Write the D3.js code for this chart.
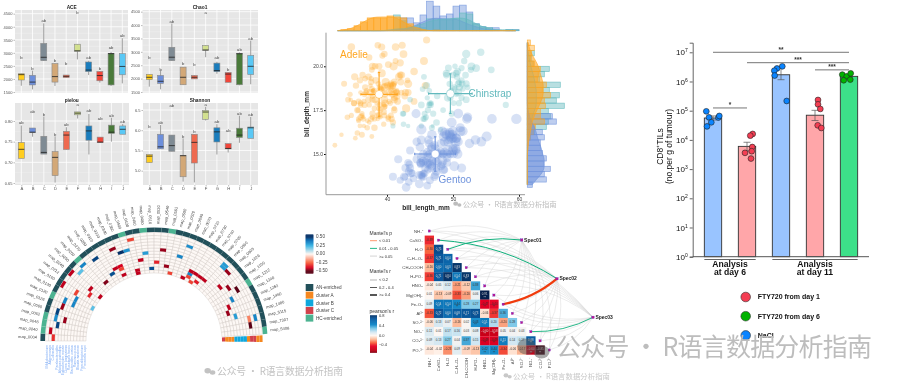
<!DOCTYPE html>
<meta charset="utf-8" />
<style>
  html, body { margin: 0; padding: 0; background: #fff; }
  svg { display: block; font-family: "Liberation Sans", Arial, sans-serif; }
  /* the reference is a soft, upscaled collage */
  svg > g { filter: blur(0.35px); }
</style>
<body>
  <script src="https://d3js.org/d3.v7.min.js"></script>
  <script>
    // ---------- data: boxplots (low whisker, q1, median, q3, high whisker)
    const boxGroups = ["A", "B", "C", "D", "E", "F", "G", "H", "I", "J"];
    const boxColors = ["#ffcd1f", "#6d8fdb", "#7f8b94", "#d3a877", "#ee6a50", "#d2e08f", "#1a7dbd", "#f2463a", "#4a7a3a", "#5ac8f5"];
    const aceStats = [[1740,1960,2164,2200,2200],[1600,1770,1880,2140,2320],[2700,2700,2830,3360,4130],[1730,1880,2090,2590,2590],[2050,2050,2100,2150,2150],[2750,3060,3080,3330,3330],[2150,2280,2340,2650,2700],[1860,1930,2130,2290,2290],[1730,1770,2970,2980,3040],[1830,2160,2480,2970,3560]];
    const aceLetters = ["b","b","ab","b","b","b","ab","b","ab","ab"];
    const aceLetterY = [2800,2390,4220,2690,2570,4550,2815,2400,3200,3650];
    const chaoStats = [[1700,1960,2050,2160,2160],[1600,1820,1900,2120,2300],[2670,2670,2800,3170,4060],[1770,1770,2050,2430,2430],[1990,1990,2050,2120,2120],[2800,3060,3070,3240,3240],[2180,2260,2300,2580,2630],[1860,1860,2170,2230,2230],[1750,1770,2930,2940,2980],[1790,2150,2460,2870,3420]];
    const chaoLetters = ["b","b","ab","b","b","a","ab","b","ab","ab"];
    const chaoLetterY = [2770,2350,4115,2560,2510,4475,2780,2330,3095,3480];
    const pielouStats = [[.7095,.7095,.7315,.748,.789],[.762,.772,.773,.783,.783],[.72,.72,.724,.763,.811],[.651,.668,.712,.726,.763],[.731,.731,.766,.775,.785],[.806,.815,.819,.822,.822],[.719,.7535,.776,.788,.817],[.748,.748,.749,.761,.761],[.75,.77,.773,.79,.808],[.768,.768,.78,.788,.793]];
    const pielouLetters = ["ab","ab","b","b","ab","a","ab","ab","ab","ab"];
    const pielouLetterY = [.795,.822,.816,.768,.791,.84,.824,.805,.814,.799];
    const shannonStats = [[5.2,5.2,5.36,5.4,5.4],[5.54,5.54,5.59,5.9,6.13],[5.48,5.48,5.62,5.88,5.88],[4.73,4.85,5.37,5.38,5.8],[4.71,5.19,5.7,5.9,5.9],[6.24,6.27,6.45,6.49,6.58],[5.4,5.71,5.96,6.06,6.15],[5.45,5.54,5.55,5.67,5.67],[5.69,5.82,5.88,6.05,6.36],[5.8,5.8,6.06,6.08,6.33]];
    const shannonLetters = ["b","ab","ab","b","b","a","ab","ab","ab","ab"];
    const shannonLetterY = [6.09,6.19,6.61,5.85,5.97,6.64,6.21,5.98,6.42,6.39];

    // ---------- data: penguins (bill length, bill depth, body mass)
    const adelie = [[39.1,18.7,3750],[39.5,17.4,3800],[40.3,18,3250],[36.7,19.3,3450],[39.3,20.6,3650],[38.9,17.8,3625],[39.2,19.6,4675],[34.1,18.1,3475],[42,20.2,4250],[37.8,17.1,3300],[37.8,17.3,3700],[41.1,17.6,3200],[38.6,21.2,3800],[34.6,21.1,4400],[36.6,17.8,3700],[38.7,19,3450],[42.5,20.7,4500],[34.4,18.4,3325],[46,21.5,4200],[37.8,18.3,3400],[37.7,18.7,3600],[35.9,19.2,3800],[38.2,18.1,3950],[38.8,17.2,3800],[35.3,18.9,3800],[40.6,18.6,3550],[40.5,17.9,3200],[37.9,18.6,3150],[40.5,18.9,3950],[39.5,16.7,3250],[37.2,18.1,3900],[39.5,17.8,3300],[40.9,18.9,3900],[36.4,17,3325],[39.2,21.1,4150],[38.8,20,3950],[42.2,18.5,3550],[37.6,19.3,3300],[39.8,19.1,4650],[36.5,18,3150],[40.8,18.4,3900],[36,18.5,3100],[44.1,19.7,4400],[37,16.9,3000],[39.6,18.8,4600],[41.1,19,3425],[37.5,18.9,2975],[36,17.9,3450],[42.3,21.2,4150],[39.6,17.7,3500],[40.1,18.9,4300],[35,17.9,3450],[42,19.5,4050],[34.5,18.1,2900],[41.4,18.6,3700],[39,17.5,3550],[40.6,18.8,3800],[36.5,16.6,2850],[37.6,19.1,3750],[35.7,16.9,3150],[41.3,21.1,4400],[37.6,17,3600],[41.1,18.2,4050],[36.4,17.1,2850],[41.6,18,3950],[35.5,16.2,3350],[41.1,19.1,4100],[35.9,16.6,3050],[41.8,19.4,4450],[33.5,19,3600],[39.7,18.4,3900],[39.6,17.2,3550],[45.8,18.9,4150],[35.5,17.5,3700],[42.8,18.5,4250],[40.9,16.8,3700],[37.2,19.4,3900],[36.2,16.1,3550],[42.1,19.1,4000],[34.6,17.2,3200],[42.9,17.6,4700],[36.7,18.8,3800],[35.1,19.4,4200],[37.3,17.8,3350],[41.3,20.3,3550],[36.3,19.5,3800],[36.9,18.6,3500],[38.3,19.2,3950],[38.9,18.8,3600],[35.7,18,3550],[41.1,18.1,4300],[34,17.1,3400],[39.6,18.1,4450],[36.2,17.3,3300],[40.8,18.9,4300],[38.1,18.6,3700],[40.3,18.5,4350],[33.1,16.1,2900],[43.2,18.5,4100],[35,17.9,3725],[41,20,4725],[37.7,16,3075],[37.8,20,4250],[37.9,18.6,2925],[39.7,18.9,3550],[38.6,17.2,3750],[38.2,20,3900],[38.1,17,3175],[43.2,19,4775],[38.1,16.5,3825],[45.6,20.3,4600],[39.7,17.7,3200],[42.2,19.5,4275],[39.6,20.7,3900],[42.7,18.3,4075],[38.6,17,2900],[37.3,20.5,3775],[35.7,17,3350],[41.1,18.6,3325],[36.2,17.2,3150],[37.7,19.8,3500],[40.2,17,3450],[41.4,18.5,3875],[35.2,15.9,3050],[40.6,19,4000],[38.8,17.6,3275],[41.5,18.3,4300],[39,17.1,3050],[44.1,18,4000],[38.5,17.9,3325],[43.1,19.2,3500],[36.8,18.5,3500],[37.5,18.5,4475],[38.1,17.6,3425],[41.1,17.5,3900],[35.6,17.5,3175],[40.2,20.1,3975],[37,16.5,3400],[39.7,17.9,4250],[40.2,17.1,3400],[40.6,17.2,3475],[32.1,15.5,3050],[40.7,17,3725],[37.3,16.8,3000],[39,18.7,3650],[39.2,18.6,4250],[36.6,18.4,3475],[36,17.8,3450],[37.8,18.1,3750],[36,17.1,3700],[41.5,18.5,4000]];
    const chinstrap = [[46.5,17.9,3500],[50,19.5,3900],[51.3,19.2,3650],[45.4,18.7,3525],[52.7,19.8,3725],[45.2,17.8,3950],[46.1,18.2,3250],[51.3,18.2,3750],[46,18.9,4150],[51.3,19.9,3700],[46.6,17.8,3800],[51.7,20.3,3775],[47,17.3,3700],[52,18.1,4050],[45.9,17.1,3575],[50.5,19.6,4050],[50.3,20,3300],[58,17.8,3700],[46.4,18.6,3450],[49.2,18.2,4400],[42.4,17.3,3600],[48.5,17.5,3400],[43.2,16.6,2900],[50.6,19.4,3800],[46.7,17.9,3300],[52,19,4150],[50.5,18.4,3400],[49.5,19,3800],[46.4,17.8,3700],[52.8,20,4550],[40.9,16.6,3200],[54.2,20.8,4300],[42.5,16.7,3350],[51,18.8,4100],[49.7,18.6,3600],[47.5,16.8,3900],[47.6,18.3,3850],[52,20.7,4800],[46.9,16.6,2700],[53.5,19.9,4500],[49,19.5,3950],[46.2,17.5,3650],[50.9,19.1,3550],[45.5,17,3500],[50.9,17.9,3675],[50.8,18.5,4450],[50.1,17.9,3400],[49,19.6,4300],[51.5,18.7,3250],[49.8,17.3,3675],[48.1,16.4,3325],[51.4,19,3950],[45.7,17.3,3600],[50.7,19.7,4050],[42.5,17.3,3350],[52.2,18.8,3450],[45.2,16.6,3250],[49.3,19.9,4050],[50.2,18.8,3800],[45.6,19.4,3525],[51.9,19.5,3950],[46.8,16.5,3650],[45.7,17,3650],[55.8,19.8,4000],[43.5,18.1,3400],[49.6,18.2,3775],[50.8,19,4100],[50.2,18.7,3775]];
    const gentoo = [[46.1,13.2,4500],[50,16.3,5700],[48.7,14.1,4450],[50,15.2,5700],[47.6,14.5,5400],[46.5,13.5,4550],[45.4,14.6,4800],[46.7,15.3,5200],[43.3,13.4,4400],[46.8,15.4,5150],[40.9,13.7,4650],[49,16.1,5550],[45.5,13.7,4650],[48.4,14.6,5850],[45.8,14.6,4200],[49.3,15.7,5850],[42,13.5,4150],[49.2,15.2,6300],[46.2,14.5,4800],[48.7,15.1,5350],[50.2,14.3,5700],[45.1,14.5,5000],[46.5,14.5,4400],[46.3,15.8,5050],[42.9,13.1,5000],[46.1,15.1,5100],[47.8,15,5650],[48.2,14.3,4600],[50,15.3,5550],[47.3,15.3,5250],[42.8,14.2,4700],[45.1,14.5,5050],[59.6,17,6050],[49.1,14.8,5150],[48.4,16.3,5400],[42.6,13.7,4950],[44.4,17.3,5250],[44,13.6,4350],[48.7,15.7,5350],[42.7,13.7,3950],[49.6,16,5700],[45.3,13.7,4300],[49.6,15,4750],[50.5,15.9,5550],[43.6,13.9,4900],[45.5,13.9,4200],[50.5,15.9,5400],[44.9,13.3,5100],[45.2,15.8,5300],[46.6,14.2,4850],[48.5,14.1,5300],[45.1,14.4,4400],[50.1,15,5000],[46.5,14.4,4900],[45,15.4,5050],[43.8,13.9,4300],[45.5,15,5000],[43.2,14.5,4450],[50.4,15.3,5550],[45.3,13.8,4200],[46.2,14.9,5300],[45.7,13.9,4400],[54.3,15.7,5650],[45.8,14.2,4700],[49.8,16.8,5700],[46.2,14.4,4650],[49.5,16.2,5800],[43.5,14.2,4700],[50.7,15,5550],[47.7,15,4750],[46.4,15.6,5000],[48.2,15.6,5100],[46.5,14.8,5200],[46.4,15,4700],[48.6,16,5800],[47.5,14.2,4600],[51.1,16.3,6000],[45.2,13.8,4750],[45.2,16.4,5950],[49.1,14.5,4625],[52.5,15.6,5450],[47.4,14.6,4725],[50,15.9,5350],[44.9,13.8,4750],[50.8,17.3,5600],[43.4,14.4,4600],[51.3,14.2,5300],[47.5,14,4875],[52.1,17,5550],[47.5,15,4950],[52.2,17.1,5400],[45.5,14.5,4750],[49.5,16.1,5650],[44.5,14.7,4850],[50.8,15.7,5200],[49.4,15.8,4925],[46.9,14.6,4875],[48.4,14.4,4625],[51.1,16.5,5250],[48.5,15,4850],[55.9,17,5600],[47.2,15.5,4975],[49.1,15,5500],[47.3,13.8,4725],[46.8,16.1,5500],[41.7,14.7,4700],[53.4,15.8,5500],[43.3,14,4575],[48.1,15.1,5500],[50.5,15.2,5000],[49.8,15.9,5950],[43.5,15.2,4650],[51.5,16.3,5500],[46.2,14.1,4375],[55.1,16,5850],[44.5,15.7,4875],[48.8,16.2,6000],[47.2,13.7,4925],[46.8,14.3,4850],[50.4,15.7,5750],[45.2,14.8,5200],[49.9,16.1,5400]];
    const speciesNames = ["Adelie", "Chinstrap", "Gentoo"];
    const speciesColors = ["#ffa51f", "#62b9bd", "#6f93dc"];
    const speciesCross = [[38.8,2.75,18.4,1.25],[49.6,3.3,18.44,1.13],[47.3,3.1,15,0.98]];

    // marginal histograms, one value per bill_length bin starting at lengthBins[i]
    const lengthBins = d3.range(32, 60);
    const lengthHist = [
      [0,1,2,5,9,13,13,13,15,14,13,7,3,1,0,1,0,0,0,0,0,0,0,0,0,0,0,0],
      [0,0,0,0,0,0,0,0,0,16,10,4,1,3,12,12,11,11,12,18,17,7,4,3,0,0,1,1],
      [0,0,0,0,0,0,0,0,0,0,13,13,8,16,30,25,15,17,25,26,19,7,4,3,3,0,1,1]
    ];
    const lengthDens = [
      [0,1,2,5,9,13,14,14,14,13,9,5,3,1,0,0,0,0,0,0,0,0,0,0,0,0,0,0],
      [0,0,0,0,0,0,0,0,1,2,2,3,5,7,10,11,12,12,13,13,11,7,4,2,1,1,1,0],
      [0,0,0,0,0,0,0,0,0,1,1,3,6,9,12,13,12,12,12,9,6,4,2,1,1,0,0,0]
    ];
    // bill_depth bins, 0.3 wide, top row starts at 21.5
    const depthHist = [
      [3,7,4,3,7,13,11,10,19,15,23,17,18,13,13,17,8,6,3,1,0,0,0,0,0,0,0,0],
      [0,0,7,4,6,22,17,12,33,22,32,29,37,21,23,21,19,7,3,0,0,0,0,0,0,0,0,0],
      [0,0,0,0,0,0,0,0,0,0,0,0,0,0,25,29,7,15,17,13,13,15,19,16,23,17,19,5]
    ];
    const depthDens = [
      [1,2,4,7,10,12,13,15,16,16,16,14,12,9,7,5,4,3,2,1,1,0,0,0,0,0,0,0],
      [0,0,1,2,3,4,6,7,8,9,9,9,9,7,5,4,3,2,1,0,0,0,0,0,0,0,0,0],
      [0,0,0,0,0,0,0,0,0,0,0,0,0,1,2,4,7,9,10,12,14,15,17,17,17,14,9,5]
    ];

    // ---------- data: CD8 bars
    const barGroups = ["d6a", "d6b", "d11a", "d11b", "d11c"];
    const barValues = [5.6e4, 6e3, 1.7e6, 7e4, 1.5e6];
    const barErrLow = [4.8e4, 4.2e3, 1.15e6, 4.6e4, 1.25e6];
    const barErrHigh = [6.6e4, 8.3e3, 3.2e6, 1.03e5, 1.75e6];
    const barFill = ["#99c4ff", "#ffa6a9", "#99c4ff", "#ffa6a9", "#3de089"];
    const pointFill = ["#0a84ff", "#f43e53", "#0a84ff", "#f43e53", "#00b300"];
    const barPoints = [
      [9.5e4, 5.9e4, 4e4, 2.9e4, 5.8e4, 6.6e4],
      [1.6e4, 1.4e4, 5.7e3, 3.6e3, 4.1e3, 2.3e3],
      [3.3e6, 2.8e6, 2.35e6, 1.6e6, 2.15e5],
      [2.33e5, 1.65e5, 1.15e5, 3.16e4, 2.56e4],
      [1.72e6, 1.5e6, 1.9e6, 1.16e6, 1.1e6]
    ];
    const barJitter = [[-6.7,-4,-1.7,-6,5.3,6.3],[5.7,3.3,5.3,-2,4.7,4],[1.3,-4,-6.7,-6.3,5.7],[3,3,5.3,2.7,6.3],[-6.7,-2.3,1.7,1.3,-5.3]];
    const brackets = [["d6a","d11c",1e7,"**"],["d6b","d11c",4.4e6,"***"],["d11b","d11c",2.5e6,"***"],["d6a","d6b",1.24e5,"*"]];
    const barLegend = [["FTY720 from day 1","#f43e53"],["FTY720 from day 6","#00b300"],["NaCl","#0a84ff"]];
    const decades = [0, 1, 2, 3, 4, 5, 6, 7];

    // ---------- data: circular heatmap
    const taxaLabels = ["map_0004","map_0040","map_0046","map_0052","map_0060","map_0126","map_0120","map_0130","map_0160","map_0212","map_0240","map_0250","map_0260","map_0270","map_0280","map_0310","map_0330","map_0340","map_0360","map_0400","map_0430","map_0450","map_0480","map_0510","map_0520","map_0540","map_0561","map_0590","map_0620","map_0640","map_0670","map_0710","map_0730","map_0760","map_0790","map_0860","map_0903","map_1026","map_1100","map_1212","map_1240","map_1263","map_1460","map_1480","map_5115","map_7307","map_5406"];
    const hcSectors = [1, 2, 3, 6, 12, 19, 22, 26, 39, 46];
    const ringNames = ["Prevotella copri","Faecalibacterium","Blautia wexlerae","Ruminococcus","Bacteroides ovatus","Roseburia faecis","Dorea longicatena","Eubacterium rectale","Alistipes putredinis","Parabacteroides","Collinsella","Akkermansia","Bifidobacterium"];
    const ringCluster = ["cluster C","cluster A","cluster A","cluster A","cluster B","cluster B","cluster B","cluster B","cluster A","cluster C","cluster C","cluster A","cluster A"];
    // sector, ring, correlation
    const circCells = [[20,11,-.3],[17,10,-.45],[18,8,.5],[19,8,.32],[21,4,-.42],[22,6,.3],[25,7,-.45],[24,3,-.35],[23,1,.45],[26,2,-.45],[27,0,-.3],[20,0,-.42],[20,1,-.42],[16,4,-.42],[17,4,-.4],[17,3,-.3],[15,3,.45],[17,1,-.42],[13,2,-.47],[14,10,.47],[12,11,.35],[11,10,.2],[10,12,-.42],[8,12,-.42],[10,4,-.42],[9,3,-.35],[8,7,-.3],[7,6,.35],[6,6,.35],[10,0,-.42],[7,0,.2],[6,9,.35],[5,9,-.45],[4,10,.47],[3,10,.33],[3,7,-.45],[2,9,.47],[1,11,-.42],[0,10,-.33],[29,10,.33],[28,6,.35],[35,10,.3],[35,11,.3],[36,10,-.45],[31,2,.35],[30,0,-.42],[31,3,-.42],[32,3,-.42],[33,3,-.42],[34,3,-.42],[31,1,-.3],[32,0,-.3],[33,1,-.36],[37,5,-.42],[38,7,-.45],[39,9,-.5],[40,6,.35],[41,4,-.42],[42,3,-.45],[43,5,.3],[44,11,.35],[44,9,-.2],[45,9,-.5]];
    const clusterNames = ["AN-enriched", "cluster A", "cluster B", "cluster C", "HC-enriched"];
    const clusterColors = ["#22505a", "#f5871f", "#0fa7dc", "#d2414b", "#4cb391"];
    const circTicks = [.5, .25, 0, -.25, -.5];

    // ---------- data: correlation matrix + mantel links
    const envLabels = ["NH\u2084\u207a","CaSO\u2084","H\u2082O","C\u2086H\u2081\u2082O\u2086","CH\u2083COOH","H\u2083PO\u2084","HNO\u2083","Mg(OH)\u2082","Fe\u2082O\u2083","Al\u00b3\u207a","SO\u2084\u00b2\u207b","NO\u2083\u207b","CO\u2083\u00b2\u207b","PO\u2084\u00b3\u207b"];
    const corrRows = [
      [],
      [-.39],
      [-.3,.75],
      [-.37,.71,.64],
      [-.16,.6,.63,.83],
      [-.36,.71,.84,.54,.83],
      [-.04,.05,.12,-.21,-.12,.38],
      [.01,-.13,-.09,-.33,-.2,.06,.91],
      [.09,.54,.54,.44,.28,.27,-.47,-.44],
      [-.33,.72,.6,.68,.71,.73,-.06,-.37,.36],
      [-.06,.13,.07,-.16,.02,.43,.51,.2,-.2,.28],
      [.11,.01,.17,.16,.03,.08,-.6,-.58,.05,.04,.03],
      [.09,.13,.27,.04,.37,.15,-.49,-.49,.51,.14,.17,.68],
      [-.04,-.02,-.23,.09,-.09,-.13,.42,.44,-.34,-.06,-.17,-.6,-.85]
    ];
    const specNames = ["Spec01", "Spec02", "Spec03"];
    // env index, spec index, colour, width for the links that stand out
    const strongLinks = [[1,1,"#10b07c",1],[2,0,"#10b07c",1],[8,1,"#f03b0c",2.2],[11,2,"#10b07c",0.9]];
    const pLegend = [["< 0.01","#ff8c60"],["0.01 - 0.05","#10b07c"],[">= 0.05","#cfcfcf"]];
    const rLegend = [["< 0.2",0.4],["0.2 - 0.4",0.9],[">= 0.4",1.8]];
    const corrTicks = [.8, .4, 0, -.4];

    const watermarkText = "公众号 · R语言数据分析指南";

    const svg = d3.select("body").append("svg").attr("width", 900).attr("height", 383);

    // ---------- boxplots
    function boxPanel(opt) {
      const g = svg.append("g");
      const x = d3.scalePoint().domain(boxGroups).range(opt.xr);
      const y = d3.scaleLinear().domain(opt.yd).range(opt.yr);
      g.append("rect").attr("x", opt.px[0]).attr("y", opt.py[0])
        .attr("width", opt.px[1] - opt.px[0]).attr("height", opt.py[1] - opt.py[0])
        .attr("fill", "#e6e6e6");
      const minor = d3.pairs(opt.ticks).map(p => (p[0] + p[1]) / 2);
      g.selectAll(".minor").data(minor).join("line")
        .attr("x1", opt.px[0]).attr("x2", opt.px[1])
        .attr("y1", y).attr("y2", y).attr("stroke", "#f4f4f4").attr("stroke-width", 0.4);
      g.selectAll(".major").data(opt.ticks).join("line")
        .attr("x1", opt.px[0]).attr("x2", opt.px[1])
        .attr("y1", y).attr("y2", y).attr("stroke", "#fff").attr("stroke-width", 0.8);
      g.selectAll(".vert").data(boxGroups).join("line")
        .attr("x1", x).attr("x2", x).attr("y1", opt.py[0]).attr("y2", opt.py[1])
        .attr("stroke", "#fff").attr("stroke-width", 0.8);

      g.append("g").attr("transform", "translate(" + opt.px[0] + ",0)")
        .call(d3.axisLeft(y).tickValues(opt.ticks).tickSize(1.5).tickPadding(1).tickFormat(opt.fmt))
        .call(a => a.select(".domain").remove())
        .call(a => a.selectAll("text").attr("font-size", 4).attr("fill", "#555").attr("font-family", "Liberation Sans"))
        .call(a => a.selectAll("line").attr("stroke", "#555").attr("stroke-width", 0.4));
      if (opt.showX) {
        g.append("g").attr("transform", "translate(0," + opt.py[1] + ")")
          .call(d3.axisBottom(x).tickSize(1.5).tickPadding(1))
          .call(a => a.select(".domain").remove())
          .call(a => a.selectAll("text").attr("font-size", 4.2).attr("fill", "#555").attr("font-family", "Liberation Sans"))
          .call(a => a.selectAll("line").attr("stroke", "#555").attr("stroke-width", 0.4));
      }

      const boxes = g.selectAll(".box").data(opt.stats).join("g");
      boxes.append("line").attr("x1", (d, i) => x(boxGroups[i])).attr("x2", (d, i) => x(boxGroups[i]))
        .attr("y1", d => y(d[0])).attr("y2", d => y(d[4])).attr("stroke", "#777").attr("stroke-width", 0.7);
      boxes.append("rect").attr("x", (d, i) => x(boxGroups[i]) - 3).attr("width", 6)
        .attr("y", d => y(d[3])).attr("height", d => Math.max(y(d[1]) - y(d[3]), 1))
        .attr("fill", (d, i) => boxColors[i]).attr("stroke", "#8a8a8a").attr("stroke-width", 0.6);
      boxes.append("line").attr("x1", (d, i) => x(boxGroups[i]) - 3).attr("x2", (d, i) => x(boxGroups[i]) + 3)
        .attr("y1", d => y(d[2])).attr("y2", d => y(d[2])).attr("stroke", "#222").attr("stroke-width", 0.8);
      g.selectAll(".letter").data(opt.letters).join("text")
        .attr("x", (d, i) => x(boxGroups[i])).attr("y", (d, i) => y(opt.letterY[i]) + 1.3)
        .attr("text-anchor", "middle").attr("font-size", 4.2).attr("fill", "#444").text(d => d);
      g.append("text").attr("x", opt.titleX).attr("y", opt.py[0] - 1.5).attr("text-anchor", "middle")
        .attr("font-size", 4.8).attr("font-weight", "bold").attr("fill", "#222").text(opt.title);
    }
    boxPanel({ title: "ACE", titleX: 71.7, px: [15, 128], py: [10, 93], xr: [21.3, 122.3], yd: [1500, 4500], yr: [92, 13.7],
      ticks: d3.range(1500, 4501, 500), fmt: d3.format("d"), stats: aceStats, letters: aceLetters, letterY: aceLetterY });
    boxPanel({ title: "Chao1", titleX: 200, px: [142.5, 258], py: [10, 93], xr: [149.3, 250.7], yd: [1500, 4500], yr: [92, 11.7],
      ticks: d3.range(1500, 4501, 500), fmt: d3.format("d"), stats: chaoStats, letters: chaoLetters, letterY: chaoLetterY });
    boxPanel({ title: "pielou", titleX: 71.7, px: [15, 129], py: [103, 185], xr: [21.3, 122.7], yd: [.65, .8], yr: [183, 121],
      ticks: [.65, .7, .75, .8], fmt: d3.format(".2f"), stats: pielouStats, letters: pielouLetters, letterY: pielouLetterY, showX: true });
    boxPanel({ title: "Shannon", titleX: 200, px: [143, 258], py: [103, 185], xr: [149.3, 250.7], yd: [5, 6.5], yr: [170.7, 110],
      ticks: [5, 5.5, 6, 6.5], fmt: d3.format(".1f"), stats: shannonStats, letters: shannonLetters, letterY: shannonLetterY, showX: true });

    // ---------- penguin scatter with marginals
    const sx = d3.scaleLinear().domain([40, 60]).range([387, 519]);
    const sy = d3.scaleLinear().domain([15, 20]).range([154, 66.3]);
    const sr = d3.scaleSqrt().domain([2700, 6300]).range([2, 5.4]);
    const scatter = svg.append("g");

    const species = [adelie, chinstrap, gentoo];
    species.forEach((pts, k) => {
      scatter.append("g").selectAll("circle").data(pts).join("circle")
        .attr("cx", d => sx(d[0])).attr("cy", d => sy(d[1])).attr("r", d => sr(d[2]))
        .attr("fill", speciesColors[k]).attr("fill-opacity", 0.28);
    });
    speciesCross.forEach((c, k) => {
      const g = scatter.append("g").attr("stroke", speciesColors[k]).attr("stroke-width", 1.1);
      g.append("line").attr("x1", sx(c[0] - c[1])).attr("x2", sx(c[0] + c[1])).attr("y1", sy(c[2])).attr("y2", sy(c[2]));
      g.append("line").attr("x1", sx(c[0])).attr("x2", sx(c[0])).attr("y1", sy(c[2] - c[3])).attr("y2", sy(c[2] + c[3]));
      [c[0] - c[1], c[0] + c[1]].forEach(v => g.append("line").attr("x1", sx(v)).attr("x2", sx(v)).attr("y1", sy(c[2]) - 1.2).attr("y2", sy(c[2]) + 1.2));
      [c[2] - c[3], c[2] + c[3]].forEach(v => g.append("line").attr("y1", sy(v)).attr("y2", sy(v)).attr("x1", sx(c[0]) - 1.2).attr("x2", sx(c[0]) + 1.2));
      scatter.append("circle").attr("cx", sx(c[0])).attr("cy", sy(c[2])).attr("r", 4)
        .attr("fill", "#fff").attr("stroke", speciesColors[k]).attr("stroke-width", 0.5);
    });
    const speciesLabelAt = [[354, 58], [490, 97], [455, 183]];
    speciesNames.forEach((n, k) => {
      scatter.append("text").attr("x", speciesLabelAt[k][0]).attr("y", speciesLabelAt[k][1]).attr("text-anchor", "middle")
        .attr("font-size", 10).attr("fill", speciesColors[k]).text(n);
    });

    scatter.append("g").attr("transform", "translate(0,194.7)")
      .call(d3.axisBottom(sx).tickValues([40, 50, 60]).tickSize(2).tickPadding(1))
      .call(a => a.selectAll("text").attr("font-size", 5).attr("fill", "#444").attr("font-family", "Liberation Sans"));
    scatter.append("g").attr("transform", "translate(326,0)")
      .call(d3.axisLeft(sy).tickValues([15, 17.5, 20]).tickSize(2).tickPadding(1).tickFormat(d3.format(".1f")))
      .call(a => a.selectAll("text").attr("font-size", 5).attr("fill", "#444").attr("font-family", "Liberation Sans"));
    scatter.selectAll(".domain").remove();
    scatter.append("path").attr("d", d3.line()([[326, 32.7], [326, 194.7], [525, 194.7]]))
      .attr("fill", "none").attr("stroke", "#999").attr("stroke-width", 1);
    scatter.append("text").attr("x", 426).attr("y", 209.5).attr("text-anchor", "middle")
      .attr("font-size", 6.5).attr("font-weight", "bold").attr("fill", "#222").text("bill_length_mm");
    scatter.append("text").attr("transform", "translate(309,114) rotate(-90)").attr("text-anchor", "middle")
      .attr("font-size", 6.5).attr("font-weight", "bold").attr("fill", "#222").text("bill_depth_mm");

    // top marginal: values are counts
    const topY = d3.scaleLinear().domain([0, 30]).range([30.7, 1.2]);
    const histOpacity = [0.6, 0.45, 0.45];
    [2, 1, 0].forEach(k => {
      scatter.append("g").selectAll("rect").data(lengthHist[k]).join("rect")
        .attr("x", (d, i) => sx(lengthBins[i])).attr("width", sx(1) - sx(0))
        .attr("y", d => topY(d)).attr("height", d => topY(0) - topY(d))
        .attr("fill", speciesColors[k]).attr("fill-opacity", histOpacity[k])
        .attr("stroke", speciesColors[k]).attr("stroke-opacity", 0.8).attr("stroke-width", d => d > 0 ? 0.7 : 0);
    });
    [2, 1, 0].forEach(k => {
      scatter.append("path").datum(lengthDens[k])
        .attr("d", d3.area().curve(d3.curveBasis)
          .x((d, i) => sx(lengthBins[i] + 0.5)).y0(topY(0)).y1(d => topY(d)))
        .attr("fill", speciesColors[k]).attr("fill-opacity", 0.45)
        .attr("stroke", speciesColors[k]).attr("stroke-width", 0.6);
    });

    // right marginal
    const rightX = d3.scaleLinear().domain([0, 37]).range([527.3, 564.3]);
    const depthTop = i => 21.5 - 0.3 * i;
    [1, 2, 0].forEach(k => {
      scatter.append("g").selectAll("rect").data(depthHist[k]).join("rect")
        .attr("x", rightX(0)).attr("width", d => rightX(d) - rightX(0))
        .attr("y", (d, i) => sy(depthTop(i))).attr("height", sy(0) - sy(0.3))
        .attr("fill", speciesColors[k]).attr("fill-opacity", k === 0 ? 0.4 : 0.45)
        .attr("stroke", speciesColors[k]).attr("stroke-opacity", 0.8).attr("stroke-width", d => d > 0 ? 0.7 : 0);
    });
    [1, 2, 0].forEach(k => {
      scatter.append("path").datum(depthDens[k])
        .attr("d", d3.area().curve(d3.curveBasis)
          .y((d, i) => sy(depthTop(i) - 0.15)).x0(rightX(0)).x1(d => rightX(d)))
        .attr("fill", speciesColors[k]).attr("fill-opacity", k === 1 ? 0.25 : 0.6)
        .attr("stroke", speciesColors[k]).attr("stroke-width", 0.6);
    });

    // ---------- CD8 bars
    const bx = d3.scaleBand().domain(barGroups).range([696, 866]).paddingInner(0.49).paddingOuter(0.245);
    const by = d3.scaleLog().domain([1, 2.13e7]).range([256.7, 42.7]);
    const bars = svg.append("g");
    const bc = d => bx(d) + bx.bandwidth() / 2;
    bars.selectAll(".bar").data(barValues).join("rect")
      .attr("x", (d, i) => bx(barGroups[i])).attr("width", bx.bandwidth())
      .attr("y", d => by(d)).attr("height", d => by(1) - by(d))
      .attr("fill", (d, i) => barFill[i]).attr("stroke", "#333").attr("stroke-width", 0.9);
    barGroups.forEach((g, i) => {
      const e = bars.append("g").attr("stroke", "#555").attr("stroke-width", 0.7);
      e.append("line").attr("x1", bc(g)).attr("x2", bc(g)).attr("y1", by(barErrLow[i])).attr("y2", by(barErrHigh[i]));
      [barErrLow[i], barErrHigh[i]].forEach(v => e.append("line")
        .attr("x1", bc(g) - 3.5).attr("x2", bc(g) + 3.5).attr("y1", by(v)).attr("y2", by(v)));
      bars.append("g").selectAll("circle").data(barPoints[i]).join("circle")
        .attr("cx", (d, j) => bc(g) + barJitter[i][j]).attr("cy", d => by(d)).attr("r", 2.9)
        .attr("fill", pointFill[i]).attr("stroke", "#222").attr("stroke-width", 0.6);
    });
    brackets.forEach(b => {
      bars.append("line").attr("x1", bc(b[0])).attr("x2", bc(b[1])).attr("y1", by(b[2])).attr("y2", by(b[2]))
        .attr("stroke", "#666").attr("stroke-width", 0.9);
      bars.append("text").attr("x", (bc(b[0]) + bc(b[1])) / 2).attr("y", by(b[2]) - 0.5).attr("text-anchor", "middle")
        .attr("font-size", 6.5).attr("font-weight", "bold").attr("fill", "#333").text(b[3]);
    });
    bars.append("g").attr("transform", "translate(692.7,0)")
      .call(d3.axisLeft(by).tickValues(decades.map(d => Math.pow(10, d))).tickSize(3).tickPadding(2).tickFormat(""))
      .call(a => a.selectAll(".tick text").each(function (d) {
        const t = d3.select(this).attr("font-size", 8).attr("fill", "#111").attr("font-family", "Liberation Sans");
        t.append("tspan").text("10");
        t.append("tspan").attr("font-size", 5).attr("dy", -3).text(Math.round(Math.log10(d)));
      }))
      .call(a => a.selectAll("line,path").attr("stroke", "#555").attr("stroke-width", 0.9));
    bars.append("line").attr("x1", 692.7).attr("x2", 869).attr("y1", by(1)).attr("y2", by(1)).attr("stroke", "#555").attr("stroke-width", 1);
    bars.append("text").attr("transform", "translate(663,146.5) rotate(-90)").attr("text-anchor", "middle")
      .attr("font-size", 8.5).attr("fill", "#111").text("CD8\u207aTILs");
    bars.append("text").attr("transform", "translate(672,146.5) rotate(-90)").attr("text-anchor", "middle")
      .attr("font-size", 8.5).attr("fill", "#111").text("(no.per g of tumour)");
    const barGroupLines = [["d6a", "d6b", ["Analysis", "at day 6"]], ["d11a", "d11c", ["Analysis", "at day 11"]]];
    barGroupLines.forEach(b => {
      const x0 = bx(b[0]), x1 = bx(b[1]) + bx.bandwidth();
      bars.append("line").attr("x1", x0).attr("x2", x1).attr("y1", 259.5).attr("y2", 259.5).attr("stroke", "#555").attr("stroke-width", 0.9);
      b[2].forEach((s, i) => bars.append("text").attr("x", (x0 + x1) / 2).attr("y", 266.8 + i * 8).attr("text-anchor", "middle")
        .attr("font-size", 8.6).attr("font-weight", "bold").attr("fill", "#111").text(s));
    });
    barLegend.forEach((d, i) => {
      const y = 297 + i * 19.2;
      bars.append("circle").attr("cx", 745.7).attr("cy", y).attr("r", 4.8).attr("fill", d[1]).attr("stroke", "#333").attr("stroke-width", 0.6);
      bars.append("text").attr("x", 757.7).attr("y", y + 2.3).attr("font-size", 7).attr("font-weight", "bold").attr("fill", "#111").text(d[0]);
    });

    // ---------- circular heatmap
    const circ = svg.append("g").attr("transform", "translate(154,341)");
    const sectorAngle = d3.scaleLinear().domain([0, taxaLabels.length]).range([-Math.PI / 2, 86.4 * Math.PI / 180]);
    const ringR = d3.scaleLinear().domain([0, ringNames.length]).range([68, 108.6]);
    const cellColor = d3.scaleLinear().domain([-.5, -.4, -.25, 0, .25, .4, .5])
      .range(["#5a0015", "#d8001f", "#f8653f", "#fff6f0", "#35b2e2", "#0a6fb8", "#043067"]);
    const arc = d3.arc();
    const cellArc = (s, r) => arc({
      startAngle: sectorAngle(s), endAngle: sectorAngle(s + 1),
      innerRadius: ringR(r), outerRadius: ringR(r + 1)
    });
    const gridCells = d3.cross(d3.range(taxaLabels.length), d3.range(ringNames.length));
    circ.selectAll(".grid").data(gridCells).join("path")
      .attr("d", d => cellArc(d[0], d[1]))
      .attr("fill", "#fdf8f5").attr("stroke", "#c9bfb9").attr("stroke-width", 0.35);
    circ.selectAll(".cell").data(circCells).join("path")
      .attr("d", d => cellArc(d[0], d[1]))
      .attr("fill", d => cellColor(d[2]));
    circ.selectAll(".ring").data(taxaLabels).join("path")
      .attr("d", (d, i) => arc({ startAngle: sectorAngle(i), endAngle: sectorAngle(i + 1), innerRadius: 109, outerRadius: 113.6 }))
      .attr("fill", (d, i) => hcSectors.includes(i) ? clusterColors[4] : clusterColors[0]);
    circ.selectAll(".taxa").data(taxaLabels).join("text")
      .attr("transform", (d, i) => {
        const a = (sectorAngle(i + 0.5)) * 180 / Math.PI;
        return "rotate(" + a + ") translate(0,-117) rotate(" + (a < 0 ? 90 : -90) + ")";
      })
      .attr("text-anchor", (d, i) => sectorAngle(i + 0.5) < 0 ? "end" : "start")
      .attr("dy", "0.35em").attr("font-size", 4).attr("fill", "#444").text(d => d);
    // cluster strip at the closing edge of the fan
    circ.selectAll(".strip").data(ringCluster).join("path")
      .attr("d", (d, i) => arc({ startAngle: 87 * Math.PI / 180, endAngle: 90.5 * Math.PI / 180, innerRadius: ringR(i), outerRadius: ringR(i + 1) }))
      .attr("fill", d => clusterColors[clusterNames.indexOf(d)]);
    circ.selectAll(".ringName").data(ringNames).join("text")
      .attr("transform", (d, i) => "translate(" + (-(ringR(i) + ringR(i + 1)) / 2) + ",4) rotate(-90)")
      .attr("text-anchor", "end").attr("dy", "0.35em").attr("font-size", 3.4).attr("fill", "#7aa9f5").text(d => d);

    const circLegendY = d3.scaleLinear().domain([.5, -.5]).range([236.7, 270.7]);
    svg.append("g").selectAll("rect").data(d3.range(-.57, .57, .01)).join("rect")
      .attr("x", 305.7).attr("width", 7.6).attr("y", d => circLegendY(d) - 0.2).attr("height", 0.7)
      .attr("fill", d => cellColor(Math.max(-.5, Math.min(.5, d))));
    svg.append("g").selectAll("text").data(circTicks).join("text")
      .attr("x", 316).attr("y", d => circLegendY(d) + 1.6).attr("font-size", 4.6).attr("fill", "#444").text(d3.format(".2f"));
    const circLegend = svg.append("g");
    clusterNames.forEach((n, i) => {
      circLegend.append("rect").attr("x", 305.7).attr("y", 284 + i * 7.65).attr("width", 7.6).attr("height", 7).attr("fill", clusterColors[i]);
      circLegend.append("text").attr("x", 316).attr("y", 289.2 + i * 7.65).attr("font-size", 4.6).attr("fill", "#444").text(n);
    });

    // ---------- correlation triangle with mantel links
    const mx = d3.scaleLinear().domain([0, 13]).range([429.3, 549.3]);
    const my = d3.scaleLinear().domain([0, 13]).range([231, 350]);
    const cw = mx(1) - mx(0), ch = my(1) - my(0);
    const corrColor = d3.scaleLinear().domain([-.85, -.6, -.45, -.3, -.15, 0, .15, .3, .45, .7, .9])
      .range(["#3b0011", "#c80018", "#e60026", "#f8653f", "#fdbf9e", "#fff7f2", "#cfe6f2", "#74c5e6", "#0f87c8", "#0a5aa0", "#05224f"]);
    const corr = svg.append("g");
    const specPos = [[521.7, 240], [557, 278.7], [593, 317.3]];
    function curve(a, b, bulge, k) {
      const mxp = (a[0] + b[0]) / 2, myp = (a[1] + b[1]) / 2;
      const dx = b[0] - a[0], dy = b[1] - a[1];
      // normal pointing up when going left to right, times bulge sign
      const cx = mxp + dy * k * bulge, cy = myp - dx * k * bulge;
      return "M" + a[0] + "," + a[1] + "Q" + cx + "," + cy + " " + b[0] + "," + b[1];
    }
    const envPos = i => [mx(i), my(i)];
    const allLinks = d3.cross(d3.range(envLabels.length), d3.range(specNames.length));
    corr.selectAll(".link").data(allLinks).join("path")
      .attr("d", d => curve(envPos(d[0]), specPos[d[1]], d[0] < 7 ? 1 : -1, 0.2))
      .attr("fill", "none").attr("stroke", "#cfcfcf").attr("stroke-width", 0.4);
    corr.selectAll(".strong").data(strongLinks).join("path")
      .attr("d", d => curve(envPos(d[0]), specPos[d[1]], d[0] < 7 ? 1 : -1, 0.13))
      .attr("fill", "none").attr("stroke", d => d[2]).attr("stroke-width", d => d[3]);

    corrRows.forEach((row, r) => {
      const cells = corr.append("g").selectAll("g").data(row).join("g")
        .attr("transform", (d, c) => "translate(" + mx(c) + "," + my(r) + ")");
      cells.append("rect").attr("x", -cw / 2).attr("y", -ch / 2).attr("width", cw + 0.1).attr("height", ch + 0.1)
        .attr("fill", d => corrColor(d));
      cells.append("text").attr("text-anchor", "middle").attr("y", 0.4)
        .attr("font-size", 2.9).attr("fill", d => Math.abs(d) > 0.5 ? "#ddd" : "#333").text(d3.format(".2f"));
      cells.filter(d => Math.abs(d) >= 0.4).append("text").attr("text-anchor", "middle").attr("y", 3.6)
        .attr("font-size", 3).attr("fill", d => Math.abs(d) > 0.5 ? "#ddd" : "#333").text("**");
    });
    corr.selectAll(".mark").data(envLabels).join("rect")
      .attr("x", (d, i) => mx(i) - 1.1).attr("y", (d, i) => my(i) - 1.1).attr("width", 2.2).attr("height", 2.2)
      .attr("fill", "#c0148c").attr("stroke", "#5b2fc9").attr("stroke-width", 0.3);
    corr.selectAll(".rowLab").data(envLabels).join("text")
      .attr("x", 422.7).attr("y", (d, i) => my(i) + 1.5).attr("text-anchor", "end")
      .attr("font-size", 4.2).attr("fill", "#444").text(d => d);
    corr.selectAll(".colLab").data(envLabels).join("text")
      .attr("transform", (d, i) => "translate(" + (mx(i) + 1.5) + ",358) rotate(-90)")
      .attr("text-anchor", "end").attr("font-size", 4.2).attr("fill", "#444").text(d => d);
    specNames.forEach((n, i) => {
      corr.append("rect").attr("x", specPos[i][0] - 1.2).attr("y", specPos[i][1] - 1.2).attr("width", 2.4).attr("height", 2.4)
        .attr("fill", "#c0148c").attr("stroke", "#5b2fc9").attr("stroke-width", 0.3);
      corr.append("text").attr("x", specPos[i][0] + 2.4).attr("y", specPos[i][1] + 1.7)
        .attr("font-size", 5).attr("font-weight", "bold").attr("fill", "#222").text(n);
    });

    // legends on the left of the triangle
    const legendText = (x, y, s, size) => corr.append("text").attr("x", x).attr("y", y).attr("font-size", size).attr("fill", "#333").text(s);
    legendText(369.5, 235, "Mantel's p", 5);
    pLegend.forEach((d, i) => {
      const y = 240.7 + i * 7.7;
      corr.append("line").attr("x1", 370).attr("x2", 377).attr("y1", y).attr("y2", y).attr("stroke", d[1]).attr("stroke-width", 0.9);
      legendText(379, y + 1.4, d[0], 4);
    });
    legendText(369.5, 272.5, "Mantel's r", 5);
    rLegend.forEach((d, i) => {
      const y = 280 + i * 7.5;
      corr.append("line").attr("x1", 370).attr("x2", 377).attr("y1", y).attr("y2", y).attr("stroke", "#444").attr("stroke-width", d[1]);
      legendText(379, y + 1.4, d[0], 4);
    });
    legendText(369.5, 312.5, "pearson's r", 5);
    const corrLegY = d3.scaleLinear().domain([.8, -.4]).range([316, 344.7]);
    corr.append("g").selectAll("rect").data(d3.range(-.72, .83, .01)).join("rect")
      .attr("x", 370).attr("width", 7).attr("y", d => corrLegY(d) - 0.15).attr("height", 0.55).attr("fill", d => corrColor(d));
    corrTicks.forEach(t => legendText(379, corrLegY(t) + 1.4, d3.format(".1f")(t), 4));

    // ---------- watermarks
    function watermark(x, y, size, len, color) {
      const g = svg.append("g");
      const r = size * 0.33;
      g.append("ellipse").attr("cx", x - size * 0.95).attr("cy", y - r * 0.25).attr("rx", r).attr("ry", r * 0.85).attr("fill", color);
      g.append("ellipse").attr("cx", x - size * 0.45).attr("cy", y + r * 0.3).attr("rx", r * 0.85).attr("ry", r * 0.7).attr("fill", color);
      g.append("text").attr("x", x).attr("y", y + size * 0.36).attr("font-family", "Noto Sans CJK SC").attr("font-size", size)
        .attr("fill", color).attr("textLength", len).attr("lengthAdjust", "spacing").text(watermarkText);
    }
    watermark(462.7, 204.3, 7.4, 94, "#bdbdbd");
    watermark(217, 371.5, 9.8, 126, "#c2c2c2");
    watermark(513, 376, 7.4, 97, "#c8c8c8");

    // the big one has its icon over the triangle, so it is dark and translucent
    const bigIcon = svg.append("g").attr("fill", "#555").attr("fill-opacity", 0.5);
    bigIcon.append("ellipse").attr("cx", 526.5).attr("cy", 346.5).attr("rx", 9).attr("ry", 8);
    bigIcon.append("ellipse").attr("cx", 541.5).attr("cy", 352).attr("rx", 8).attr("ry", 6.5);
    svg.append("text").attr("x", 556).attr("y", 356).attr("font-family", "Noto Sans CJK SC").attr("font-size", 25)
      .attr("fill", "#bdbdbd").attr("textLength", 316).attr("lengthAdjust", "spacing").text(watermarkText);
  </script>
</body>
